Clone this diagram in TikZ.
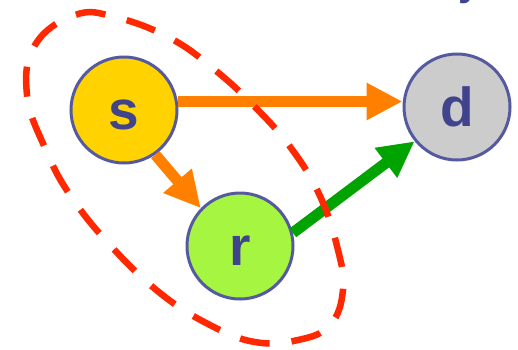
\documentclass[tikz,border=0pt]{standalone}
\usepackage{fontspec}
\setmainfont{Liberation Sans}
\usetikzlibrary{arrows.meta}
\definecolor{nodeborder}{RGB}{85,90,160}
\definecolor{labelblue}{RGB}{64,68,140}
\definecolor{syellow}{RGB}{255,210,0}
\definecolor{rgreen}{RGB}{166,245,64}
\definecolor{dgray}{RGB}{204,204,204}
\definecolor{arrorange}{RGB}{255,128,0}
\definecolor{arrgreen}{RGB}{0,163,0}
\definecolor{dashred}{RGB}{255,40,0}
\tikzset{
  vertex/.style={circle, draw=nodeborder, line width=3pt, minimum size=106pt, inner sep=0pt,
    text=labelblue, font=\fontsize{55}{60}\selectfont\bfseries, text height=39pt, text depth=0pt},
  bigarrow/.style={line width=11pt, -{Triangle[length=36pt,width=35pt]}},
  groupline/.style={draw=dashred, line width=6.5pt, dash pattern=on 30pt off 22pt}
}
\begin{document}
\begin{tikzpicture}[x=1pt,y=-1pt]
\useasboundingbox (0,0) rectangle (518,349);
% clipped fragment of text at top right
\begin{scope}
\clip (450,0) rectangle (490,4);
\node[anchor=base west, inner sep=0pt, text=labelblue, font=\fontsize{40}{44}\selectfont\bfseries] (frag) at (458,-5) {y};
\end{scope}
\node[vertex, fill=syellow] (s) at (124,110) {s};
\node[vertex, fill=dgray] (d) at (457,107) {d};
\node[vertex, fill=rgreen] (r) at (240,246) {r};
\draw[bigarrow, arrorange] (s.9) -- (s.9 -| d.west);
\draw[bigarrow, arrorange] (s.-55) -- (r.136);
\draw[bigarrow, arrgreen] (r.14) -- (d.219);
\draw[groupline] plot[smooth cycle, tension=0.7] coordinates {
  (27,95) (35,45) (75,15) (115,17) (170,38) (215,70) (255,107) (291,148)
  (320,196) (338,250) (343,290) (330,325) (298,340) (255,342) (210,325)
  (160,293) (110,245) (70,195) (45,148)};
\end{tikzpicture}
\end{document}
